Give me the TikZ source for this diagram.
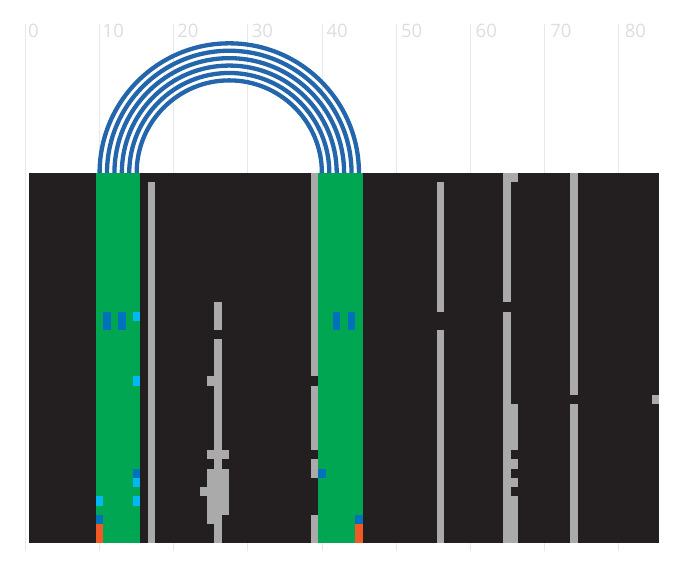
\documentclass[tikz,border=0pt]{standalone}
\usepackage{xcolor}
\usepackage{fontspec}
\setmainfont{Open Sans}
\usepackage{tikz}
\definecolor{bgdark}{RGB}{35,31,32}
\definecolor{helixgreen}{RGB}{0,166,81}
\definecolor{gapgray}{RGB}{170,170,170}
\definecolor{mutblue}{RGB}{0,114,188}
\definecolor{mutcyan}{RGB}{0,185,242}
\definecolor{mutorange}{RGB}{241,90,36}
\definecolor{arcblue}{RGB}{35,102,172}
\definecolor{gridgray}{RGB}{232,232,232}
\definecolor{labelgray}{RGB}{221,221,221}

\begin{document}
\begin{tikzpicture}[x=7.41pt, y=9.24pt,
gridline/.style={draw=gridgray, line width=0.8pt},
ticklabel/.style={anchor=base west, inner sep=0pt, text=labelgray, font=\fontsize{18.5}{20}\selectfont},
helix/.style={fill=helixgreen},
gapcell/.style={fill=gapgray},
bluecell/.style={fill=mutblue},
cyancell/.style={fill=mutcyan},
orangecell/.style={fill=mutorange},
pairarc/.style={draw=arcblue, line width=4.3pt}]
\useasboundingbox (-3.441,18.723) rectangle (88.327,-43.182);

% axis
\foreach \t in {0,10,...,80} {
  \draw[gridline] (\t,16.13) -- (\t,-40.9);
  \node[ticklabel, xshift=2.4pt+0.05pt*\t] (tick\t) at (\t,14.64) {\t};
}

% alignment: 85 columns, 40 rows
\fill[bgdark] (0.5,0) rectangle (85.5,-40);
\fill[helix] (9.5,0) rectangle (15.5,-40);
\fill[helix] (39.5,0) rectangle (45.5,-40);

% column/first row/last row
\foreach \c/\a/\b in {17/2/40, 24/35/35, 25/23/23, 25/31/31, 25/33/38, 26/15/17, 26/19/40, 27/31/31, 27/33/37,
  39/1/22, 39/24/30, 39/32/33, 39/38/40, 56/2/15, 56/18/40, 65/1/14, 65/16/40,
  66/1/1, 66/26/30, 66/32/32, 66/34/34, 66/36/40, 74/1/24, 74/26/40, 85/25/25}
  \fill[gapcell] (\c-0.5,1-\a) rectangle (\c+0.5,-\b);
\foreach \c/\a/\b in {11/16/17, 13/16/17, 42/16/17, 44/16/17, 15/33/33, 40/33/33, 10/38/38, 45/38/38}
  \fill[bluecell] (\c-0.5,1-\a) rectangle (\c+0.5,-\b);
\foreach \c/\a/\b in {15/16/16, 15/23/23, 15/34/34, 15/36/36, 10/36/36}
  \fill[cyancell] (\c-0.5,1-\a) rectangle (\c+0.5,-\b);
\foreach \c/\a/\b in {10/39/40, 45/39/40}
  \fill[orangecell] (\c-0.5,1-\a) rectangle (\c+0.5,-\b);

% base pairs
\foreach \i in {10,...,15} {
  \pgfmathtruncatemacro\j{55-\i}
  \pgfmathsetmacro\rad{(\j-\i)/2*7.41}
  \coordinate (open\i) at (\i,0);
  \coordinate (close\j) at (\j,0);
  \draw[pairarc] (open\i) arc[start angle=180, end angle=0, radius=\rad pt];
}
\end{tikzpicture}
\end{document}
